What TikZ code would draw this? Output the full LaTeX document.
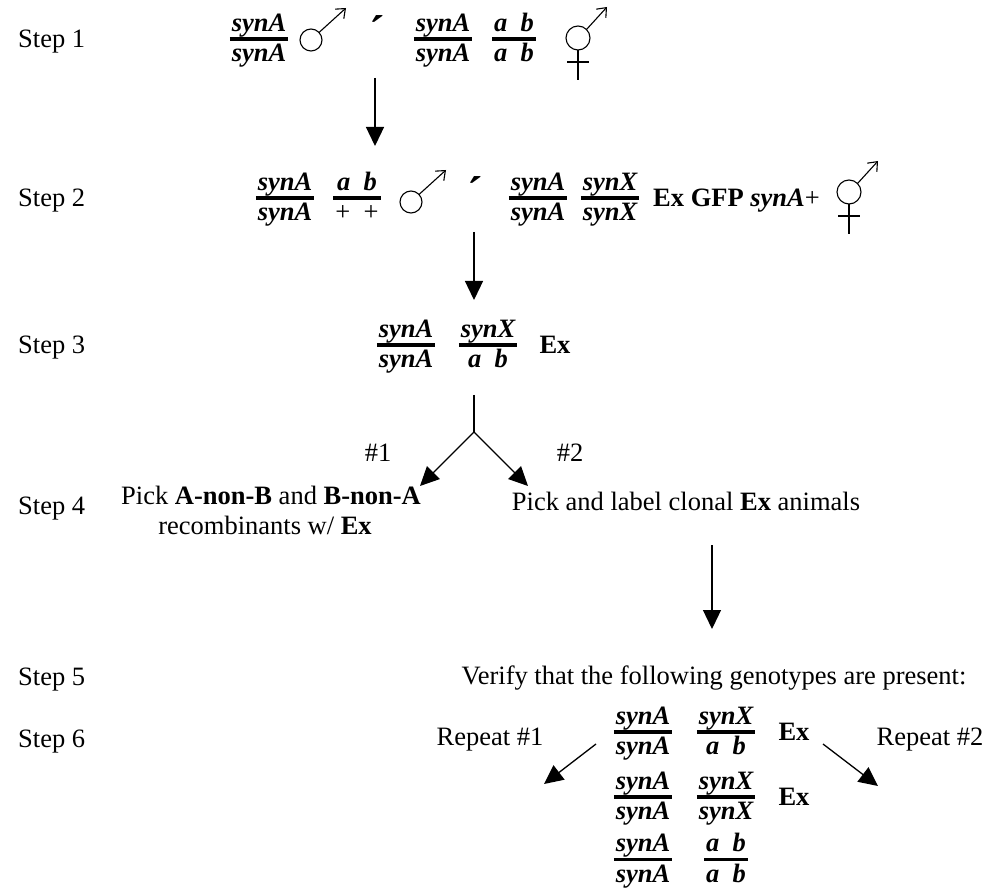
\documentclass[tikz,border=0pt]{standalone}
\usepackage{fontspec}
\setmainfont{Liberation Serif}
\usetikzlibrary{arrows.meta}

% genotype: two chromosomes over a thick bar
\newcommand{\gfrac}[2]{{\setlength{\arrayrulewidth}{3.5pt}%
  \begin{tabular}{@{\kern2pt}c@{\kern2pt}}
  \bfseries\itshape #1\\[-3pt]\hline
  \bfseries\itshape #2
  \end{tabular}}}

\tikzset{
  malesym/.pic={
    \draw[line width=1.1pt] (0,0) circle (11pt);
    \draw[line width=1.1pt,-{Straight Barb[length=8pt,width=13pt]}] (8,-7.5) -- (35,-32);
  },
  hermsym/.pic={
    \draw[line width=1.1pt] (0,0) circle (12pt);
    \draw[line width=1.1pt,-{Straight Barb[length=8pt,width=13pt]}] (8.5,-8.5) -- (29,-31);
    \draw[line width=1.1pt] (0,12) -- (0,42) (-11,24) -- (11,24);
  }
}

\begin{document}
\begin{tikzpicture}[x=1pt,y=-1pt,
    every node/.style={inner sep=0pt,font=\fontsize{26.5}{30}\selectfont},
    txt/.style={anchor=base},
    xmark/.style={anchor=base,font=\fontsize{46}{46}\selectfont\bfseries},
    flow/.style={line width=1.3pt,-{Triangle[length=19pt,width=18pt]}}]
  \useasboundingbox (0,0) rectangle (988,890);

  % step labels
  \foreach \n/\y in {1/48,2/207,3/354,4/514,5/685,6/747}
    \node[anchor=base west] (step\n) at (18,\y) {Step \n};

  % Step 1
  \node (g1a) at (259,40.5) {\gfrac{synA}{synA}};
  \pic at (311,40) {malesym};
  \node[xmark] (x1) at (377,48) {´};
  \node (g1b) at (443,40.5) {\gfrac{synA}{synA}};
  \node (g1c) at (514,40.5) {\gfrac{a~~b}{a~~b}};
  \pic at (578,38) {hermsym};
  \coordinate (a1s) at (375,78);
  \coordinate (a1e) at (375,146);
  \draw[flow] (a1s) -- (a1e);

  % Step 2
  \node (g2a) at (285,199.5) {\gfrac{synA}{synA}};
  \node (g2b) at (357,199.5) {\gfrac{a~~b}{\normalfont+~~+}};
  \pic at (411,202) {malesym};
  \node[xmark] (x2) at (475,209) {´};
  \node (g2c) at (538,199.5) {\gfrac{synA}{synA}};
  \node (g2d) at (610,199.5) {\gfrac{synX}{synX}};
  \node[anchor=base west] (ex2) at (653,207) {\textbf{Ex GFP \textit{synA}}+};
  \pic at (849,192) {hermsym};
  \coordinate (a2s) at (474,232);
  \coordinate (a2e) at (474,300);
  \draw[flow] (a2s) -- (a2e);

  % Step 3
  \node (g3a) at (406,346.5) {\gfrac{synA}{synA}};
  \node (g3b) at (488,346.5) {\gfrac{synX}{a~~b}};
  \node (ex3) at (555,345) {\textbf{Ex}};
  \coordinate (sp0) at (474,395);
  \coordinate (sp1) at (474,432);
  \coordinate (tip1) at (420,486);
  \coordinate (tip2) at (528,486);
  \draw[line width=1.3pt] (sp0) -- (sp1);
  \draw[flow] (sp1) -- (tip1);
  \draw[flow] (sp1) -- (tip2);
  \node[txt] (n1) at (378,461) {\#1};
  \node[txt] (n2) at (570,461) {\#2};

  % Step 4
  \node[txt] (pick1) at (271,504) {Pick \textbf{A-non-B} and \textbf{B-non-A}};
  \node[txt] (pick2) at (265,534) {recombinants w/ \textbf{Ex}};
  \node[txt] (clonal) at (686,510) {Pick and label clonal \textbf{Ex} animals};
  \coordinate (a4s) at (712,545);
  \coordinate (a4e) at (712,629);
  \draw[flow] (a4s) -- (a4e);

  % Step 5
  \node[txt] (verify) at (714,684) {Verify that the following genotypes are present:};

  % Step 6
  \node (g6a) at (643,733.5) {\gfrac{synA}{synA}};
  \node (g6b) at (726,733.5) {\gfrac{synX}{a~~b}};
  \node (ex6a) at (794,732) {\textbf{Ex}};
  \node (g6c) at (643,798.5) {\gfrac{synA}{synA}};
  \node (g6d) at (726,798.5) {\gfrac{synX}{synX}};
  \node (ex6b) at (794,797) {\textbf{Ex}};
  \node (g6e) at (643,861) {\gfrac{synA}{synA}};
  \node (g6f) at (726,861) {\gfrac{a~~b}{a~~b}};
  \node[txt] (rep1) at (490,745) {Repeat \#1};
  \node[txt] (rep2) at (930,745) {Repeat \#2};
  \coordinate (r1s) at (596,744);
  \coordinate (r1e) at (544,784);
  \coordinate (r2s) at (823,744);
  \coordinate (r2e) at (878,786);
  \draw[flow] (r1s) -- (r1e);
  \draw[flow] (r2s) -- (r2e);
\end{tikzpicture}
\end{document}
